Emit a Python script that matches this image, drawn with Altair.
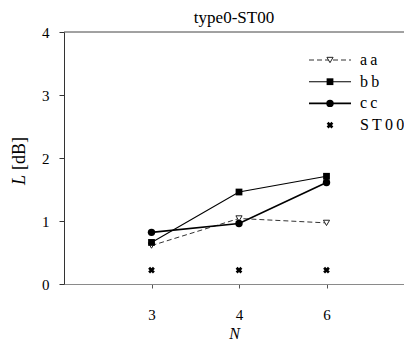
import altair as alt
import pandas as pd

# ---- data ----
N_LABELS = ["3", "4", "6"]          # x categories
POS = [1, 2, 3]                      # slot of each category on the x axis
AA = [0.61, 1.04, 0.97]
BB = [0.66, 1.46, 1.71]
CC = [0.82, 0.96, 1.61]
ST00 = [0.22, 0.22, 0.22]
SERIES = ["aa", "bb", "cc", "ST00"]
LEGEND_TEXT = ["a\u2009a", "b\u2009b", "c\u2009c", "S\u2009T\u20090\u20090"]
Y_TICKS = [0, 1, 2, 3, 4]

values = {"aa": AA, "bb": BB, "cc": CC, "ST00": ST00}
rows = []
for s in SERIES:
    for p, lab, v in zip(POS, N_LABELS, values[s]):
        rows.append({"series": s, "pos": p, "N": lab, "L": v})
df = pd.DataFrame(rows)

FONT = "Liberation Serif, Times New Roman, serif"

PLOT_W, PLOT_H = 340, 252
X_MAX = PLOT_W / 87.5   # keeps the category spacing of the reference; right part is cut by the page

styles = {
    "aa": dict(line=dict(strokeDash=[5, 3], strokeWidth=1, color="#333333"),
               point=dict(shape="triangle-down", size=38, filled=True, fill="white",
                          stroke="#222222", strokeWidth=1, opacity=1)),
    "bb": dict(line=dict(strokeWidth=1.1, color="#000000"),
               point=dict(shape="square", size=46, filled=True, color="#000000", opacity=1)),
    "cc": dict(line=dict(strokeWidth=1.7, color="#000000"),
               point=dict(shape="circle", size=55, filled=True, color="#000000", opacity=1)),
    "ST00": dict(line=None,
                 point=dict(shape="cross", angle=45, size=46, filled=True, color="#000000", opacity=1)),
}

label_expr = " : ".join(f"datum.value == {p} ? '{l}'" for p, l in zip(POS, N_LABELS)) + " : ''"

x_enc = alt.X(
    "pos:Q",
    scale=alt.Scale(domain=[0, X_MAX], nice=False, zero=False),
    axis=alt.Axis(
        values=POS, labelExpr=label_expr, grid=False,
        domainColor="#8a8a8a", tickColor="#555555", tickSize=4,
        labelFont=FONT, labelFontSize=15, labelColor="#000000", labelPadding=19,
        title="N", titleFont=FONT, titleFontSize=16, titleFontStyle="italic",
        titleFontWeight="normal", titleColor="#000000", titleBaseline="alphabetic",
        titleY=54,
    ),
)
y_enc = alt.Y(
    "L:Q",
    scale=alt.Scale(domain=[0, 4], nice=False),
    axis=alt.Axis(
        values=Y_TICKS, format="d", grid=False, domainColor="#333333", tickColor="#333333",
        tickSize=5, labelFont=FONT, labelFontSize=15, labelColor="#000000",
        labelPadding=10, title=None,
    ),
)

base = alt.Chart(df).encode(x=x_enc, y=y_enc)

layers = []
one = alt.Data(values=[{}])

# top frame line
layers.append(
    alt.Chart(one).mark_rule(color="#444444", strokeWidth=1).encode(
        x=alt.datum(0), x2=alt.datum(X_MAX), y=alt.datum(4)
    )
)

for s in SERIES:
    st = styles[s]
    sub = base.transform_filter(alt.datum.series == s)
    if st["line"] is not None:
        layers.append(sub.mark_line(**st["line"]))
    layers.append(sub.mark_point(**st["point"]))

# legend (inside plot, top right)
LEG_Y0, LEG_DY = 28, 21.7
for i, s in enumerate(SERIES):
    ly = LEG_Y0 + i * LEG_DY
    st = styles[s]
    if st["line"] is not None:
        layers.append(
            alt.Chart(one).mark_rule(**st["line"]).encode(
                x=alt.value(245), x2=alt.value(287), y=alt.value(ly)
            )
        )
    layers.append(
        alt.Chart(one).mark_point(**st["point"]).encode(x=alt.value(266), y=alt.value(ly))
    )
    layers.append(
        alt.Chart(one).mark_text(align="left", baseline="middle", font=FONT, fontSize=16,
                                 color="#000000").encode(
            x=alt.value(296), y=alt.value(ly), text=alt.value(LEGEND_TEXT[i])
        )
    )

# y-axis title: italic L followed by [dB]
layers.append(
    alt.Chart(one).mark_text(angle=270, align="left", baseline="alphabetic", font=FONT,
                             fontSize=18, fontStyle="italic", color="#000000").encode(
        x=alt.value(-39), y=alt.value(153), text=alt.value("L")
    )
)
layers.append(
    alt.Chart(one).mark_text(angle=270, align="left", baseline="alphabetic", font=FONT,
                             fontSize=18, color="#000000").encode(
        x=alt.value(-39), y=alt.value(138), text=alt.value("[dB]")
    )
)

chart = alt.layer(*layers).properties(
    width=PLOT_W,
    height=PLOT_H,
    autosize=alt.AutoSizeParams(type="none"),
    padding={"left": 56, "top": 24, "right": 0, "bottom": 59},
    title=alt.TitleParams("type0-ST00", font=FONT, fontSize=17, fontWeight="normal",
                          color="#000000", anchor="middle", offset=0, dy=2),
).configure_view(stroke=None)

chart.save("out.html", embed_options={"renderer": "svg", "actions": False})
